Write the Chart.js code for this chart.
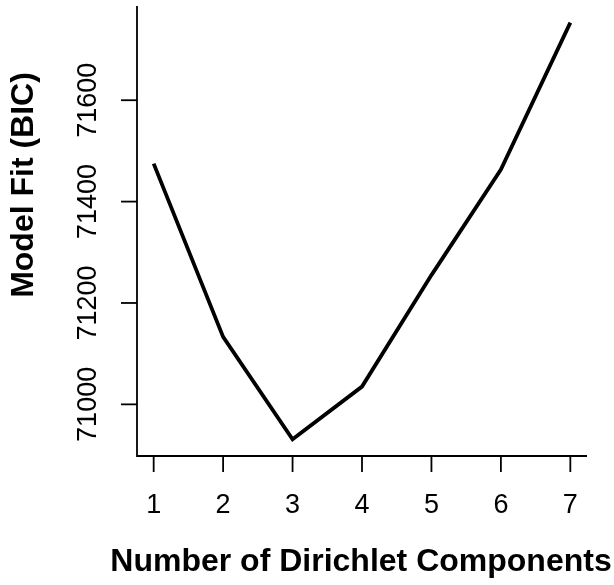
<!DOCTYPE html>
<html>
<head>
<meta charset="utf-8">
<script src="https://cdn.jsdelivr.net/npm/chart.js@4"></script>
<style>
  html, body { margin: 0; padding: 0; background: #ffffff; }
  #wrap { width: 614px; height: 585px; position: relative; }
</style>
</head>
<body>
<div id="wrap"><canvas id="chart"></canvas></div>
<script>
(() => {
    'use strict';

    const components = [1, 2, 3, 4, 5, 6, 7];
    const bicValues = [71475, 71133, 70931, 71035, 71255, 71463, 71753];
    const xTicks = [1, 2, 3, 4, 5, 6, 7];
    const yTicks = [71000, 71200, 71400, 71600];
    const xTitle = 'Number of Dirichlet Components';
    const yTitle = 'Model Fit (BIC)';

    // R style 4% padding around the data range
    const pad = (lo, hi) => [lo - (hi - lo) * 0.04, hi + (hi - lo) * 0.04];
    const [xMin, xMax] = pad(Math.min(...components), Math.max(...components));
    const [yMin, yMax] = pad(Math.min(...bicValues), Math.max(...bicValues));

    const baseAxes = {
        id: 'baseAxes',
        afterDraw(chart) {
            const ctx = chart.ctx;
            const area = chart.chartArea;
            const x = chart.scales.x;
            const y = chart.scales.y;

            ctx.save();
            ctx.strokeStyle = '#000000';
            ctx.fillStyle = '#000000';
            ctx.lineWidth = 1.8;
            ctx.lineCap = 'butt';

            // L-shaped frame
            ctx.beginPath();
            ctx.moveTo(area.left, area.top);
            ctx.lineTo(area.left, area.bottom);
            ctx.lineTo(area.right, area.bottom);
            ctx.stroke();

            // x ticks and labels
            ctx.font = '27px "Liberation Sans", Arial, sans-serif';
            ctx.textAlign = 'center';
            ctx.textBaseline = 'middle';
            xTicks.forEach((t) => {
                const px = x.getPixelForValue(t);
                ctx.beginPath();
                ctx.moveTo(px, area.bottom);
                ctx.lineTo(px, area.bottom + 16);
                ctx.stroke();
                ctx.fillText(String(t), px, area.bottom + 50);
            });

            // y ticks and rotated labels
            yTicks.forEach((t) => {
                const py = y.getPixelForValue(t);
                ctx.beginPath();
                ctx.moveTo(area.left - 16, py);
                ctx.lineTo(area.left, py);
                ctx.stroke();
                ctx.save();
                ctx.translate(area.left - 48, py);
                ctx.rotate(-Math.PI / 2);
                ctx.fillText(String(t), 0, 0);
                ctx.restore();
            });

            // axis titles
            ctx.font = 'bold 32px "Liberation Sans", Arial, sans-serif';
            ctx.fillText(xTitle, 361, 562);
            ctx.save();
            ctx.translate(24, 185);
            ctx.rotate(-Math.PI / 2);
            ctx.fillText(yTitle, 0, 0);
            ctx.restore();

            ctx.restore();
        },
    };

    new Chart(document.getElementById('chart'), {
        type: 'line',
        data: {
            datasets: [{
                data: components.map((c, i) => ({ x: c, y: bicValues[i] })),
                borderColor: '#000000',
                borderWidth: 3.8,
                pointRadius: 0,
                tension: 0,
                fill: false,
            }],
        },
        plugins: [baseAxes],
        options: {
            responsive: true,
            maintainAspectRatio: false,
            animation: false,
            layout: {
                padding: { left: 137, right: 27, top: 6, bottom: 129 },
            },
            scales: {
                x: { type: 'linear', min: xMin, max: xMax, display: false },
                y: { type: 'linear', min: yMin, max: yMax, display: false },
            },
            plugins: {
                legend: { display: false },
                tooltip: { enabled: false },
            },
        },
    });
})();
</script>
</body>
</html>
